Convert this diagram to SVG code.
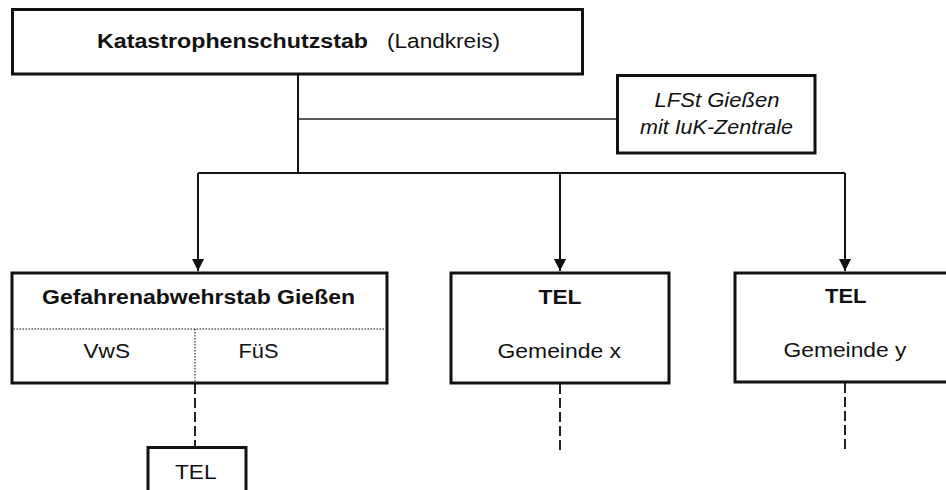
<svg xmlns="http://www.w3.org/2000/svg" width="946" height="490" viewBox="0 0 946 490">
<defs>
<marker id="arr" markerUnits="userSpaceOnUse" markerWidth="12" markerHeight="14" refX="12" refY="6" orient="auto">
<path d="M0,0 L12,6 L0,12 z" fill="#111"/>
</marker>
<style>
.box{fill:#fff;stroke:#111;stroke-width:3}
.ln{fill:none;stroke:#111;stroke-width:2}
.thin{fill:none;stroke:#222;stroke-width:1.5}
.dash{fill:none;stroke:#222;stroke-width:2;stroke-dasharray:10 4}
.dot{fill:none;stroke:#555;stroke-width:1.5;stroke-dasharray:1.5 1.5}
.t{font-family:"Liberation Sans",Arial,sans-serif;font-size:20px;fill:#111}
.b{font-weight:bold}
.i{font-style:italic}
</style>
</defs>
<rect width="946" height="490" fill="#fff"/>
<g id="connectors">
<path class="ln" d="M298 74 V173"/>
<path class="thin" d="M298 119 H617"/>
<path class="ln" d="M198 173 H845"/>
<path class="ln" d="M198 173 V271" marker-end="url(#arr)"/>
<path class="ln" d="M560 173 V271" marker-end="url(#arr)"/>
<path class="ln" d="M845 173 V271" marker-end="url(#arr)"/>
<path class="dash" d="M195 384 V447"/>
<path class="dash" d="M560 384 V450"/>
<path class="dash" d="M845 383 V450"/>
</g>
<g id="katastrophenschutzstab">
<rect class="box" x="12.5" y="9.5" width="570" height="64.5"/>
<text class="t b" x="97" y="48" font-size="21" textLength="271" lengthAdjust="spacingAndGlyphs">Katastrophenschutzstab</text>
<text class="t" x="387" y="48" font-size="21" textLength="113" lengthAdjust="spacingAndGlyphs">(Landkreis)</text>
</g>
<g id="lfst">
<rect class="box" x="617.5" y="75.5" width="197.5" height="77.5"/>
<text class="t i" x="654.5" y="107" font-size="18.5" textLength="125" lengthAdjust="spacingAndGlyphs">LFSt Gießen</text>
<text class="t i" x="640" y="133.5" font-size="18.5" textLength="153" lengthAdjust="spacingAndGlyphs">mit IuK-Zentrale</text>
</g>
<g id="gefahrenabwehrstab">
<rect class="box" x="12" y="273" width="375" height="110"/>
<path class="dot" d="M13.5 329 H385.5"/>
<path class="dot" d="M195 329 V381.5"/>
<text class="t b" x="42" y="303.5" font-size="20.5" textLength="313" lengthAdjust="spacingAndGlyphs">Gefahrenabwehrstab Gießen</text>
<text class="t" x="83.5" y="358" textLength="46.5" lengthAdjust="spacingAndGlyphs">VwS</text>
<text class="t" x="238.5" y="358" textLength="40" lengthAdjust="spacingAndGlyphs">FüS</text>
</g>
<g id="tel-gemeinde-x">
<rect class="box" x="451" y="273" width="218" height="110"/>
<text class="t b" x="538.5" y="304" textLength="43" lengthAdjust="spacingAndGlyphs">TEL</text>
<text class="t" x="497.5" y="358" textLength="123.5" lengthAdjust="spacingAndGlyphs">Gemeinde x</text>
</g>
<g id="tel-gemeinde-y">
<rect class="box" x="735" y="273" width="240" height="109"/>
<text class="t b" x="825" y="303" textLength="41.5" lengthAdjust="spacingAndGlyphs">TEL</text>
<text class="t" x="783.5" y="357" textLength="123" lengthAdjust="spacingAndGlyphs">Gemeinde y</text>
</g>
<g id="tel-unten">
<rect class="box" x="148" y="447.5" width="98" height="60"/>
<text class="t" x="175" y="479" textLength="41.5" lengthAdjust="spacingAndGlyphs">TEL</text>
</g>
</svg>
